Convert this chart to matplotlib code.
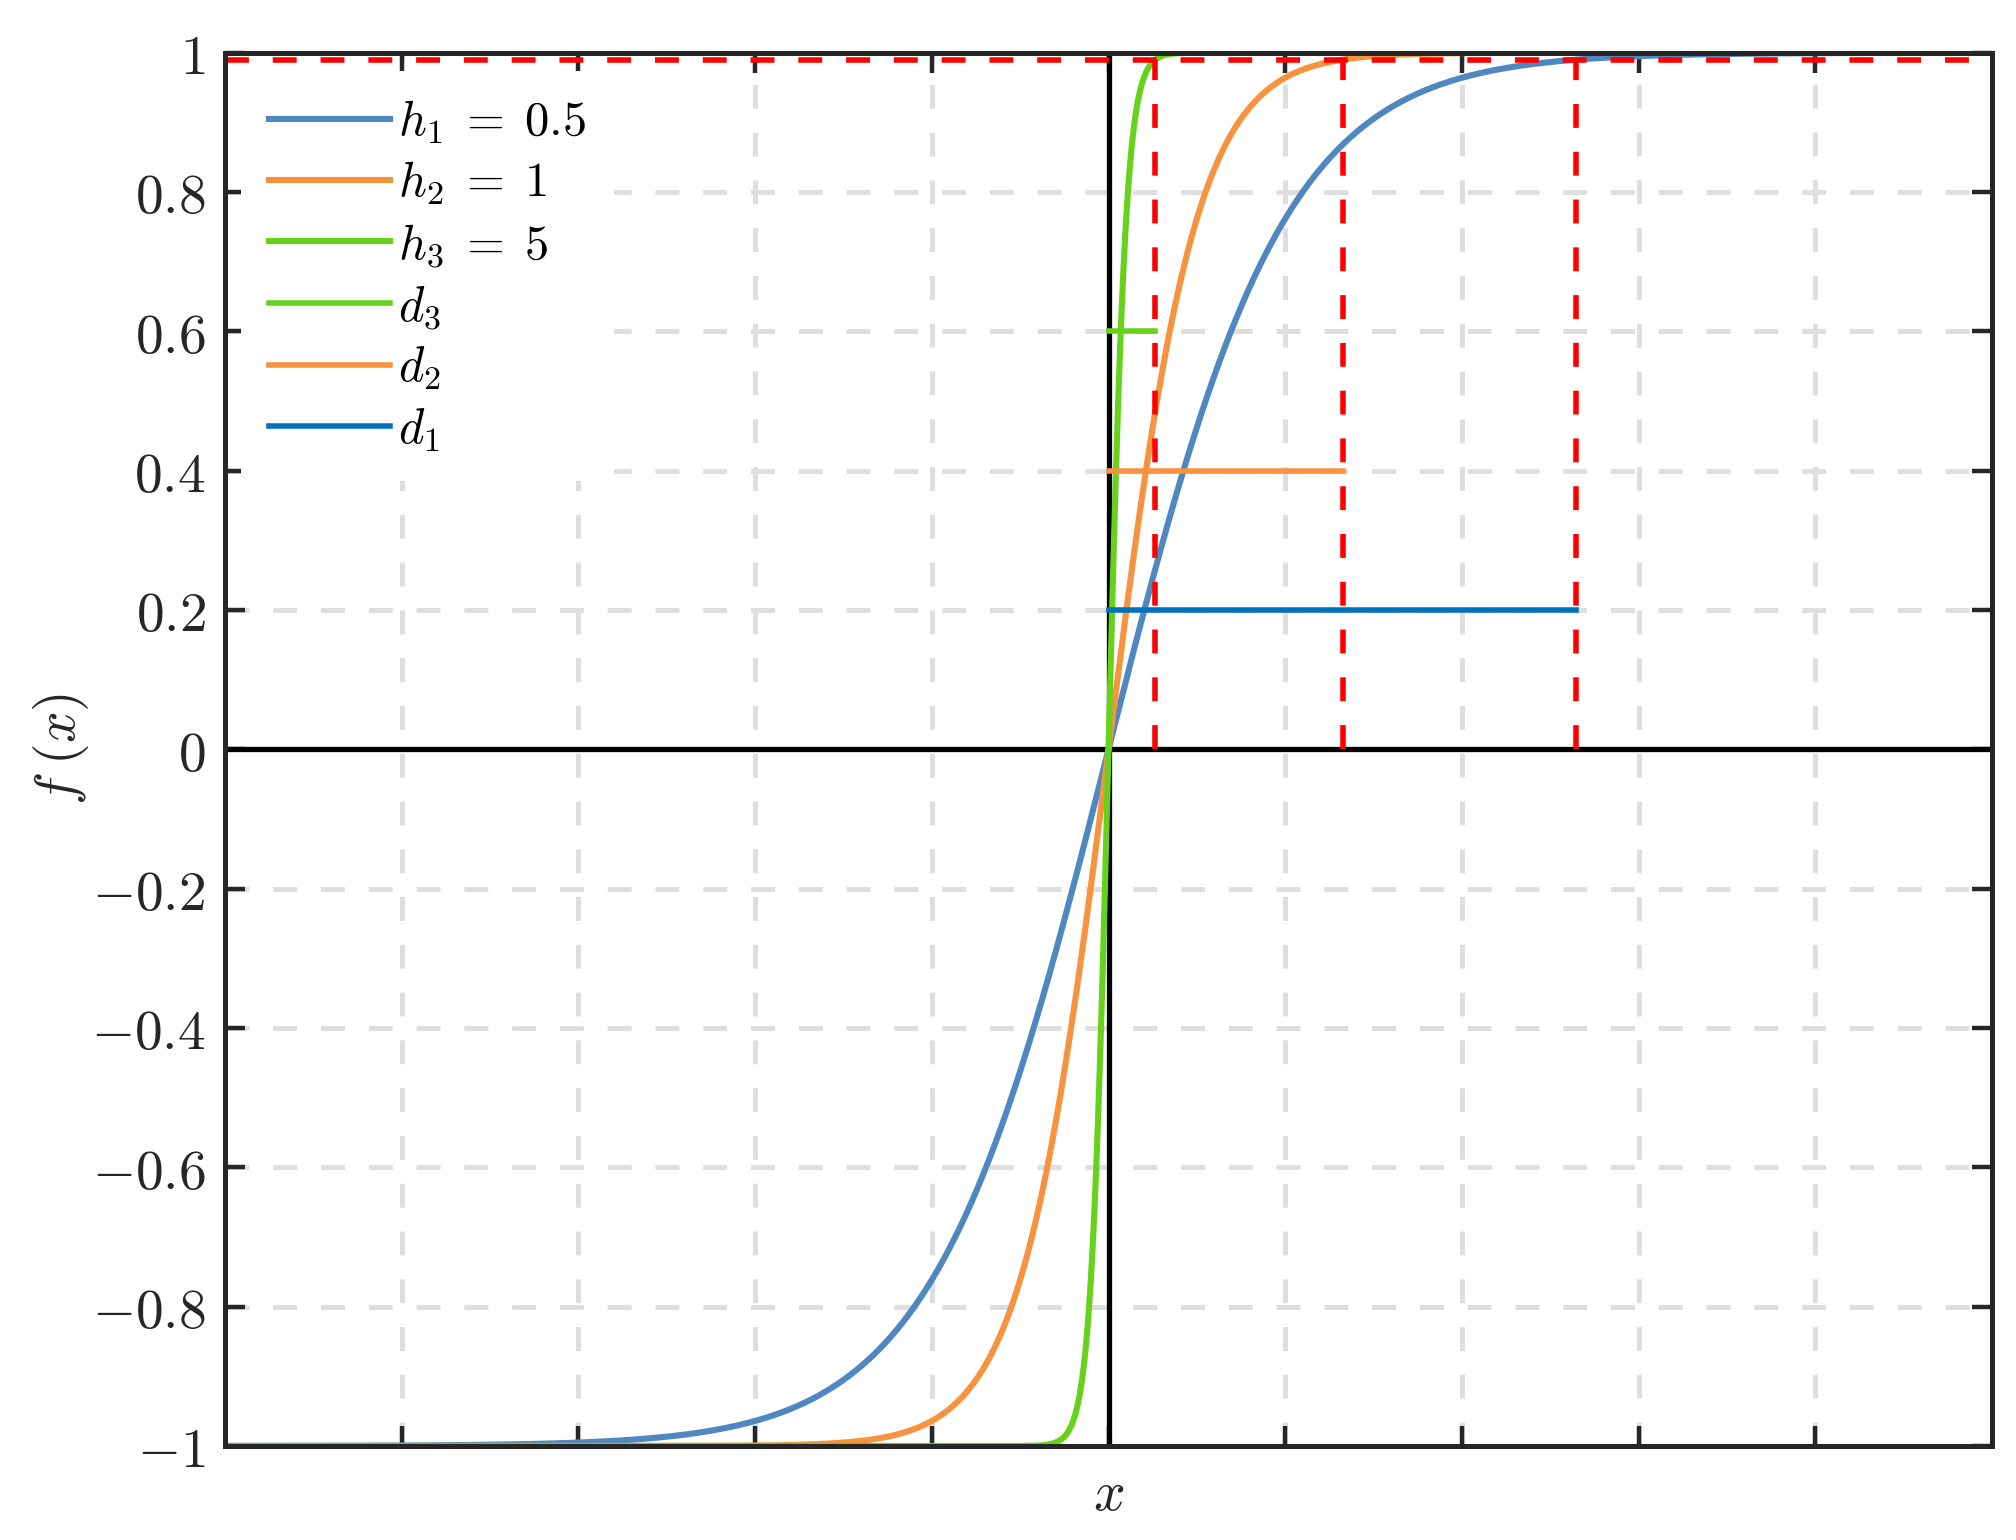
import numpy as np
import matplotlib
matplotlib.use("Agg")
import matplotlib.pyplot as plt

plt.rcParams['mathtext.fontset'] = 'cm'
plt.rcParams['font.family'] = ['DejaVu Serif']
plt.rcParams['lines.scale_dashes'] = False

# data
h_values = [0.5, 1.0, 5.0]
h_labels = [r'$h_1\;=\;0.5$', r'$h_2\;=\;1$', r'$h_3\;=\;5$']
curve_colors = ['#4F88C0', '#F7923F', '#66D21A']
d_values = [5.29, 2.65, 0.53]          # d1, d2, d3
d_levels = [0.2, 0.4, 0.6]
d_labels = [r'$d_1$', r'$d_2$', r'$d_3$']
d_colors = ['#0072BD', '#F7923F', '#66D21A']
threshold = 0.99
x_limits = (-10, 10)
x_ticks = [-8, -6, -4, -2, 0, 2, 4, 6, 8]
y_ticks = [-1, -0.8, -0.6, -0.4, -0.2, 0, 0.2, 0.4, 0.6, 0.8, 1]
y_ticklabels = [r'$-1$', r'$-0.8$', r'$-0.6$', r'$-0.4$', r'$-0.2$', r'$0$',
                r'$0.2$', r'$0.4$', r'$0.6$', r'$0.8$', r'$1$']

fig = plt.figure(figsize=(10.08, 7.7), dpi=200)
ax = fig.add_axes([225/2016, 1 - 1446/1540, (1992-225)/2016, (1446-52.7)/1540])

x = np.linspace(x_limits[0], x_limits[1], 4001)
dash = (0, (8.6, 8.6))

ax.grid(True, linestyle=dash, color='#DEDEDE', linewidth=1.8, zorder=0)
ax.set_axisbelow(True)

ax.axhline(0, color='black', linewidth=1.9, zorder=2)
ax.axvline(0, color='black', linewidth=1.9, zorder=2)

handles = []
for h, lab, c in zip(h_values, h_labels, curve_colors):
    ln, = ax.plot(x, np.tanh(h * x), color=c, linewidth=2.2, label=lab, zorder=3)
    handles.append(ln)

# threshold line and vertical markers
ax.plot([x_limits[0], x_limits[1]], [threshold, threshold], color='#FF0000',
        linewidth=2.0, linestyle=dash, zorder=4)
for d in d_values:
    ax.plot([d, d], [0, threshold], color='#FF0000', linewidth=2.0,
            linestyle=dash, zorder=4)

d_handles = {}
for d, lvl, lab, c in zip(d_values, d_levels, d_labels, d_colors):
    ln, = ax.plot([0, d], [lvl, lvl], color=c, linewidth=2.0, label=lab, zorder=5)
    d_handles[lab] = ln
handles += [d_handles[r'$d_3$'], d_handles[r'$d_2$'], d_handles[r'$d_1$']]

ax.set_xlim(*x_limits)
ax.set_ylim(-1, 1)
ax.set_xticks(x_ticks)
ax.set_xticklabels([])
ax.set_yticks(y_ticks)
ax.set_yticklabels(y_ticklabels)

for s in ax.spines.values():
    s.set_color('#262626')
    s.set_linewidth(1.8)
    s.set_zorder(6)

ax.tick_params(axis='both', which='both', direction='in', length=7.2,
               width=1.6, color='#262626', top=True, right=True,
               labelsize=20, labelcolor='#262626', pad=7)

ax.set_xlabel(r'$x$', fontsize=20, color='#262626', labelpad=0.5)
ax.set_ylabel(r'$f\;(x)$', fontsize=20, color='#262626', labelpad=0)

leg = ax.legend(handles=handles, loc='upper left', bbox_to_anchor=(0.009, 0.987),
                fontsize=17.5, frameon=True, fancybox=False, framealpha=1,
                facecolor='white', edgecolor='none', handlelength=2.5,
                handletextpad=0.17, labelspacing=0.29, borderpad=0.57,
                borderaxespad=0.0)
leg.set_zorder(7)

fig.savefig('out.png', dpi=200)
